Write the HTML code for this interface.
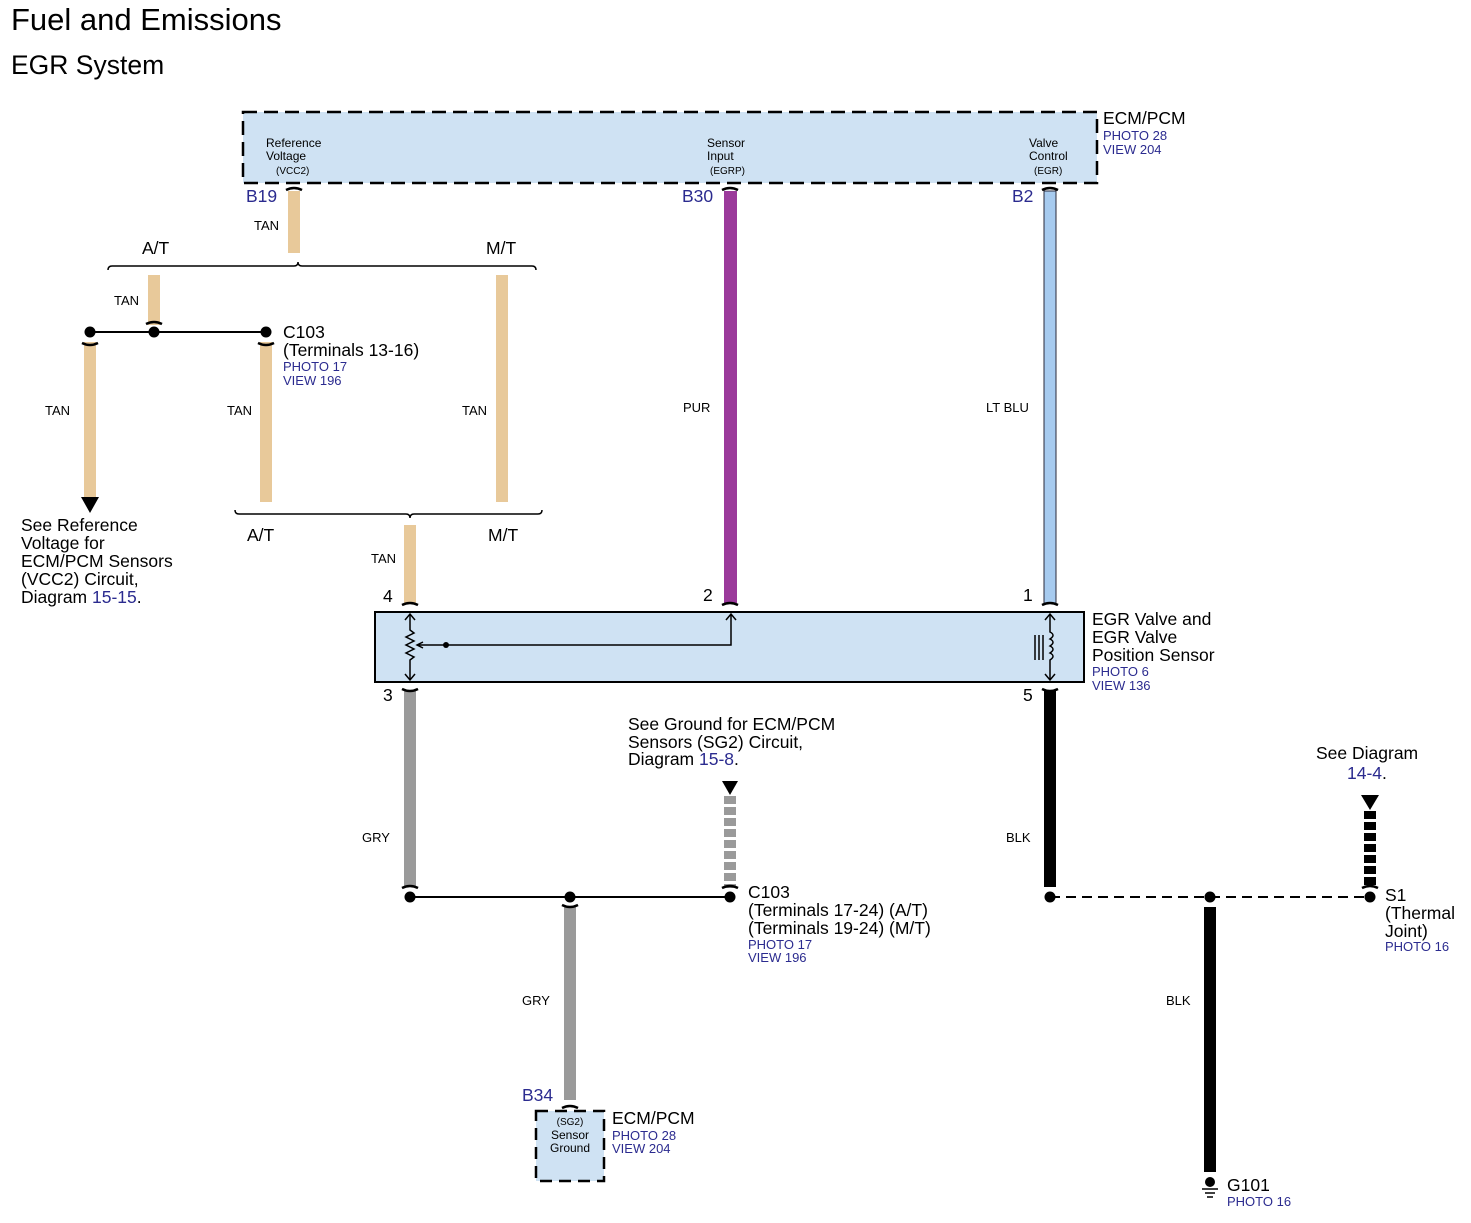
<!DOCTYPE html>
<html><head><meta charset="utf-8"><style>
html,body{margin:0;padding:0;background:#fff;}
svg{display:block;}
text{font-family:"Liberation Sans",Arial,sans-serif;fill:#000;}
.b{fill:#2b2b8f;}
.s{font-size:12px;}
.p{font-size:13px;}
.m{font-size:17.5px;}
.w{font-size:13px;}
</style></head><body>
<svg width="1471" height="1223" viewBox="0 0 1471 1223" xmlns="http://www.w3.org/2000/svg">
<text x="11" y="30" style="font-size:31px">Fuel and Emissions</text>
<text x="11" y="74" style="font-size:26.5px">EGR System</text>

<rect x="243" y="112" width="854" height="71" fill="#cfe2f3" stroke="#000" stroke-width="2.5" stroke-dasharray="14,7"/>
<text x="266" y="147" class="s">Reference</text><text x="266" y="160" class="s">Voltage</text><text x="276" y="174" style="font-size:10px">(VCC2)</text>
<text x="707" y="147" class="s">Sensor</text><text x="707" y="160" class="s">Input</text><text x="710" y="174" style="font-size:10px">(EGRP)</text>
<text x="1029" y="147" class="s">Valve</text><text x="1029" y="160" class="s">Control</text><text x="1034" y="174" style="font-size:10px">(EGR)</text>
<text x="1103" y="124" class="m">ECM/PCM</text>
<text x="1103" y="140" class="b p">PHOTO 28</text><text x="1103" y="154" class="b p">VIEW 204</text>

<text x="246" y="202" class="b m">B19</text>
<text x="682" y="202" class="b m">B30</text>
<text x="1012" y="202" class="b m">B2</text>

<g fill="#e8c99a">
<rect x="288" y="191" width="12" height="62"/>
<rect x="148" y="275" width="12" height="50"/>
<rect x="84" y="342" width="12" height="155"/>
<rect x="260" y="342" width="12" height="160"/>
<rect x="496" y="275" width="12" height="227"/>
<rect x="404" y="525" width="12" height="78"/>
</g>
<rect x="724" y="191" width="13" height="412" fill="#9b3a9b"/>
<rect x="1044" y="191" width="12" height="412" fill="#a7cbef" stroke="#2a2a3a" stroke-width="1"/>
<rect x="404" y="691" width="12" height="196" fill="#9a9a9a"/>
<rect x="564" y="906" width="12" height="194" fill="#9a9a9a"/>
<rect x="1044" y="691" width="12" height="196" fill="#000"/>
<rect x="1204" y="907" width="12" height="265" fill="#000"/>
<line x1="730" y1="796" x2="730" y2="888" stroke="#9a9a9a" stroke-width="12" stroke-dasharray="8,3"/>
<line x1="1370" y1="811" x2="1370" y2="888" stroke="#000" stroke-width="12" stroke-dasharray="8,3"/>

<g fill="none" stroke="#000" stroke-width="2.5">
<path d="M286 190 Q294 186 302 190"/>
<path d="M722 190 Q730 186 738 190"/>
<path d="M1042 190 Q1050 186 1058 190"/>
<path d="M146 324 Q154 320 162 324"/>
<path d="M82 343 Q90 347 98 343"/>
<path d="M258 343 Q266 347 274 343"/>
<path d="M402 605 Q410 601 418 605"/>
<path d="M722 605 Q730 601 738 605"/>
<path d="M1042 605 Q1050 601 1058 605"/>
<path d="M402 689 Q410 693 418 689"/>
<path d="M1042 689 Q1050 693 1058 689"/>
<path d="M402 888 Q410 884 418 888"/>
<path d="M722 888 Q730 884 738 888"/>
<path d="M562 905 Q570 909 578 905"/>
<path d="M562 1108 Q570 1104 578 1108"/>
<path d="M1362 888 Q1370 884 1378 888"/>
</g>

<g fill="none" stroke="#000" stroke-width="1.5">
<path d="M108 270 Q108 266 112 266 L294 266 Q298 266 298 262 Q298 266 302 266 L532 266 Q536 266 536 270"/>
<path d="M235 510 Q235 514 239 514 L406 514 Q410 514 410 518 Q410 514 414 514 L538 514 Q542 514 542 510"/>
</g>
<text x="142" y="254" class="m">A/T</text><text x="486" y="254" class="m">M/T</text>
<text x="247" y="541" class="m">A/T</text><text x="488" y="541" class="m">M/T</text>
<text x="254" y="230" class="w">TAN</text>
<text x="114" y="305" class="w">TAN</text>
<text x="45" y="415" class="w">TAN</text>
<text x="227" y="415" class="w">TAN</text>
<text x="462" y="415" class="w">TAN</text>
<text x="371" y="563" class="w">TAN</text>
<text x="683" y="412" class="w">PUR</text>
<text x="986" y="412" class="w">LT BLU</text>
<text x="362" y="842" class="w">GRY</text>
<text x="522" y="1005" class="w">GRY</text>
<text x="1006" y="842" class="w">BLK</text>
<text x="1166" y="1005" class="w">BLK</text>

<line x1="90" y1="332" x2="266" y2="332" stroke="#000" stroke-width="2"/>
<circle cx="90" cy="332" r="5.5"/><circle cx="154" cy="332" r="5.5"/><circle cx="266" cy="332" r="5.5"/>
<text x="283" y="338" class="m">C103</text>
<text x="283" y="356" class="m">(Terminals 13-16)</text>
<text x="283" y="371" class="b p">PHOTO 17</text><text x="283" y="385" class="b p">VIEW 196</text>
<polygon points="81,497 99,497 90,513"/>
<text x="21" y="531" class="m">See Reference</text>
<text x="21" y="549" class="m">Voltage for</text>
<text x="21" y="567" class="m">ECM/PCM Sensors</text>
<text x="21" y="585" class="m">(VCC2) Circuit,</text>
<text x="21" y="603" class="m">Diagram <tspan class="b">15-15</tspan>.</text>

<rect x="375" y="612" width="709" height="70" fill="#cfe2f3" stroke="#000" stroke-width="2"/>
<text x="383" y="602" class="m">4</text><text x="703" y="601" class="m">2</text><text x="1023" y="601" class="m">1</text>
<text x="383" y="701" class="m">3</text><text x="1023" y="701" class="m">5</text>
<g fill="none" stroke="#000" stroke-width="1.5">
<path d="M410 614 L410 630 L414 633 L406 637 L414 641 L406 645 L414 649 L406 653 L414 657 L410 660 L410 680"/>
<path d="M405 620 L410 614 L415 620 M405 674 L410 680 L415 674"/>
<path d="M446 645 L418 645 M423 642 L417 645 L423 648"/>
<path d="M446 645 L731 645 L731 614 M726 620 L731 614 L736 620"/>
<path d="M1050 614 L1050 632 Q1056 635 1050 639 Q1056 642 1050 646 Q1056 649 1050 653 Q1056 656 1050 660 L1050 680"/>
<path d="M1045 620 L1050 614 L1055 620 M1045 674 L1050 680 L1055 674"/>
<path d="M1035 635 L1035 660 M1039 635 L1039 660 M1043 635 L1043 660"/>
</g>
<circle cx="446" cy="645" r="3"/>
<text x="1092" y="625" class="m">EGR Valve and</text>
<text x="1092" y="643" class="m">EGR Valve</text>
<text x="1092" y="661" class="m">Position Sensor</text>
<text x="1092" y="676" class="b p">PHOTO 6</text><text x="1092" y="690" class="b p">VIEW 136</text>

<text x="628" y="730" class="m">See Ground for ECM/PCM</text>
<text x="628" y="748" class="m">Sensors (SG2) Circuit,</text>
<text x="628" y="765" class="m">Diagram <tspan class="b">15-8</tspan>.</text>
<polygon points="722,781 738,781 730,795"/>
<line x1="410" y1="897" x2="730" y2="897" stroke="#000" stroke-width="2"/>
<circle cx="410" cy="897" r="5.5"/><circle cx="570" cy="897" r="5.5"/><circle cx="730" cy="897" r="5.5"/>
<text x="748" y="898" class="m">C103</text>
<text x="748" y="916" class="m">(Terminals 17-24) (A/T)</text>
<text x="748" y="934" class="m">(Terminals 19-24) (M/T)</text>
<text x="748" y="949" class="b p">PHOTO 17</text><text x="748" y="962" class="b p">VIEW 196</text>

<text x="522" y="1101" class="b m">B34</text>
<rect x="536" y="1111" width="68" height="70" fill="#cfe2f3" stroke="#000" stroke-width="2.5" stroke-dasharray="12,7"/>
<text x="570" y="1125" text-anchor="middle" style="font-size:10px">(SG2)</text>
<text x="570" y="1139" text-anchor="middle" class="s">Sensor</text>
<text x="570" y="1152" text-anchor="middle" class="s">Ground</text>
<text x="612" y="1124" class="m">ECM/PCM</text>
<text x="612" y="1140" class="b p">PHOTO 28</text><text x="612" y="1153" class="b p">VIEW 204</text>

<line x1="1050" y1="897" x2="1370" y2="897" stroke="#000" stroke-width="2" stroke-dasharray="10,6"/>
<circle cx="1050" cy="897" r="5.5"/><circle cx="1210" cy="897" r="5.5"/><circle cx="1370" cy="897" r="5.5"/>
<text x="1316" y="759" class="m">See  Diagram</text>
<text x="1347" y="779" class="b m">14-4<tspan fill="#000">.</tspan></text>
<polygon points="1361,795 1379,795 1370,810"/>
<text x="1385" y="901" class="m">S1</text>
<text x="1385" y="919" class="m">(Thermal</text>
<text x="1385" y="937" class="m">Joint)</text>
<text x="1385" y="951" class="b p">PHOTO 16</text>

<circle cx="1210" cy="1182" r="5"/>
<g stroke="#000" stroke-width="1.5"><line x1="1202" y1="1189" x2="1218" y2="1189"/><line x1="1205" y1="1193" x2="1215" y2="1193"/><line x1="1207" y1="1197" x2="1213" y2="1197"/></g>
<text x="1227" y="1191" class="m">G101</text>
<text x="1227" y="1206" class="b p">PHOTO 16</text>
</svg>
</body></html>
